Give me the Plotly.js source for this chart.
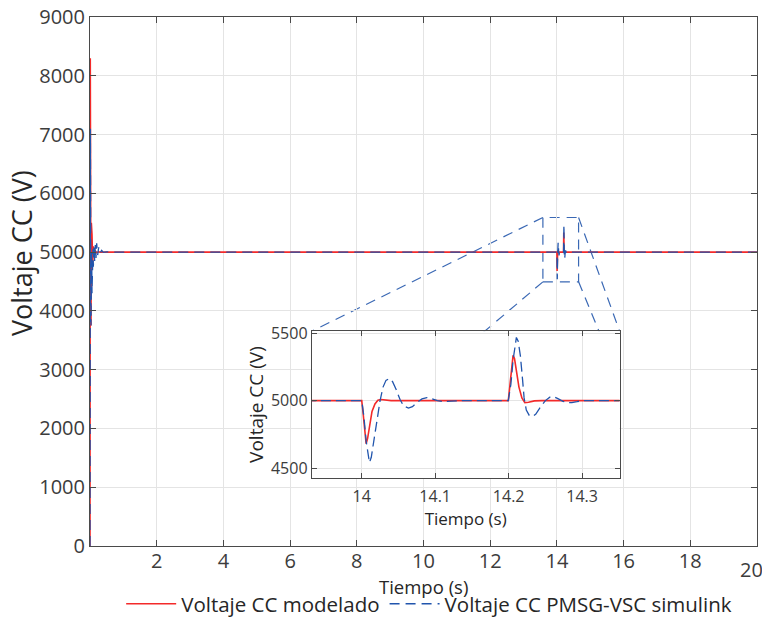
<!DOCTYPE html>
<html>
<head>
<meta charset="utf-8">
<script src="https://cdn.plot.ly/plotly-3.0.1.min.js"></script>
<style>html,body{margin:0;padding:0;background:#fff;}#chart{width:762px;height:619px;}</style>
</head>
<body>
<div id="chart"></div>
<script>
// ---- Data ----
// Red: "Voltaje CC modelado"
var tModel = [0, 0.004, 0.008, 0.012, 0.02, 0.03, 0.04, 0.05, 0.06, 0.08, 0.1, 0.12, 0.15, 0.2, 0.25, 0.3, 0.4,
  14.0, 14.002, 14.004, 14.006, 14.008, 14.011, 14.014, 14.018, 14.022, 14.026, 14.032, 14.04,
  14.1995, 14.202, 14.204, 14.206, 14.208, 14.211, 14.214, 14.218, 14.222, 14.227, 14.235, 14.245, 20];
var vModel = [0, 4200, 8300, 7200, 5600, 3750, 5500, 4500, 5300, 4800, 5100, 4950, 5030, 4990, 5005, 5000, 5000,
  5000, 4900, 4760, 4680, 4720, 4830, 4920, 4975, 5002, 5008, 5003, 5000,
  5000, 5120, 5260, 5335, 5310, 5200, 5100, 5020, 4985, 4988, 4998, 5000, 5000];

// Blue dashed: "Voltaje CC PMSG-VSC simulink"
var tSim = [0, 0.005, 0.012, 0.02, 0.03, 0.04, 0.05, 0.06, 0.07, 0.08, 0.09, 0.1, 0.12, 0.14, 0.16, 0.18, 0.2, 0.23, 0.26, 0.3, 0.35, 0.4, 0.5, 0.6,
  14.0, 14.003, 14.006, 14.009, 14.0105, 14.013, 14.017, 14.021, 14.025, 14.029, 14.033, 14.0377, 14.042, 14.047, 14.052, 14.057, 14.0636, 14.069, 14.075, 14.082, 14.0886, 14.095, 14.103, 14.111, 14.12, 14.134,
  14.1995, 14.203, 14.206, 14.209, 14.2105, 14.213, 14.216, 14.219, 14.221, 14.224, 14.228, 14.2327, 14.237, 14.243, 14.25, 14.256, 14.261, 14.267, 14.274, 14.28, 14.286, 14.293, 14.3, 20];
var vSim = [0, 3000, 7100, 5200, 3750, 4600, 5000, 4300, 4950, 4650, 5050, 4750, 5100, 4850, 5120, 4900, 5150, 4950, 5080, 4980, 5030, 4995, 5005, 5000,
  5000, 4880, 4700, 4570, 4540, 4580, 4720, 4880, 5000, 5100, 5150, 5163, 5140, 5080, 5010, 4960, 4944, 4955, 4985, 5012, 5022, 5015, 5000, 4993, 4994, 5000,
  5000, 5120, 5300, 5440, 5468, 5440, 5330, 5150, 5020, 4930, 4890, 4883, 4900, 4950, 5000, 5025, 5029, 5015, 4995, 4986, 4985, 4992, 5000, 5000];

var seriesNames = ['Voltaje CC modelado', 'Voltaje CC PMSG-VSC simulink'];
var mainXTicks = [2, 4, 6, 8, 10, 12, 14, 16, 18];
var mainYTicks = [0, 1000, 2000, 3000, 4000, 5000, 6000, 7000, 8000, 9000];
var insetXTicks = [14, 14.1, 14.2, 14.3];
var insetXLabels = ['14', '14.1', '14.2', '14.3'];
var insetYTicks = [4500, 5000, 5500];
var xTitle = 'Tiempo (s)', yTitle = 'Voltaje CC (V)';

// zoom rectangle (main-axis data units)
var zoomBox = {x0: 13.58, x1: 14.65, y0: 4494, y1: 5589};

var RED = '#f32a2a', BLUE = '#2155ad', TXT = '#3c3c3c', AX = '#4a4a4a', GRID = '#e4e4e4';
var FONT = 'Open Sans, sans-serif';

var traces = [
  {x: tModel, y: vModel, type: 'scatter', mode: 'lines', name: seriesNames[0],
   line: {color: RED, width: 1.6}, xaxis: 'x', yaxis: 'y'},
  {x: tSim, y: vSim, type: 'scatter', mode: 'lines', name: seriesNames[1],
   line: {color: BLUE, width: 1.3, dash: '10px,6px'}, xaxis: 'x', yaxis: 'y'},
  {x: tModel, y: vModel, type: 'scatter', mode: 'lines', name: seriesNames[0], showlegend: false,
   line: {color: RED, width: 1.6}, xaxis: 'x2', yaxis: 'y2'},
  {x: tSim, y: vSim, type: 'scatter', mode: 'lines', name: seriesNames[1], showlegend: false,
   line: {color: BLUE, width: 1.3, dash: '10px,5px'}, xaxis: 'x2', yaxis: 'y2'}
];

var connStyle = {color: '#3a68b4', width: 1.2, dash: '10px,7px'};
function seg(x0, y0, x1, y1) {
  return {type: 'line', xref: 'x', yref: 'y', layer: 'below', x0: x0, y0: y0, x1: x1, y1: y1, line: connStyle};
}
var shapes = [
  {type: 'rect', xref: 'x', yref: 'y', layer: 'below', x0: zoomBox.x0, x1: zoomBox.x1, y0: zoomBox.y0, y1: zoomBox.y1, line: connStyle},
  seg(zoomBox.x0, zoomBox.y1, 6.65, 3655),
  seg(zoomBox.x0, zoomBox.y0, 6.65, 1156),
  seg(zoomBox.x1, zoomBox.y1, 15.88, 3655),
  seg(zoomBox.x1, zoomBox.y0, 15.33, 3560)
];

var layout = {
  width: 762, height: 619,
  margin: {l: 90, r: 5, t: 17, b: 73, autoexpand: false},
  paper_bgcolor: '#ffffff', plot_bgcolor: '#ffffff',
  font: {family: FONT, color: TXT, size: 20},
  showlegend: true,
  legend: {orientation: 'h', x: 0.5085, xanchor: 'center', y: -0.1095, yanchor: 'middle',
           font: {family: FONT, size: 20.5, color: '#262626'}, bgcolor: 'rgba(0,0,0,0)', itemwidth: 50},
  xaxis: {domain: [0, 1], range: [0, 20], tickvals: mainXTicks, ticks: 'inside', ticklen: 6, tickcolor: AX,
          showline: true, linecolor: AX, linewidth: 1, mirror: 'ticks', showgrid: true, gridcolor: GRID,
          zeroline: false, tickfont: {size: 20, color: TXT}, ticklabelstandoff: -3},
  yaxis: {domain: [0, 1], range: [0, 9000], tickvals: mainYTicks, ticks: 'inside', ticklen: 6, tickcolor: AX,
          showline: true, linecolor: AX, linewidth: 1, mirror: 'ticks', showgrid: true, gridcolor: GRID,
          zeroline: false, tickfont: {size: 20, color: TXT}},
  xaxis2: {domain: [0.3325, 0.794], anchor: 'y2', range: [13.932, 14.351], tickvals: insetXTicks, ticktext: insetXLabels,
           ticks: 'inside', ticklen: 5, tickcolor: AX, showline: true, linecolor: AX, linewidth: 1, mirror: 'ticks',
           showgrid: true, gridcolor: GRID, zeroline: false, tickfont: {size: 16, color: TXT},
           ticklabelstandoff: 4, automargin: true,
           title: {text: xTitle, font: {size: 17, color: '#262626'}, standoff: 1}},
  yaxis2: {domain: [0.1285, 0.4062], anchor: 'x2', range: [4426, 5515], tickvals: insetYTicks,
           ticks: 'inside', ticklen: 5, tickcolor: AX, showline: true, linecolor: AX, linewidth: 1, mirror: 'ticks',
           showgrid: true, gridcolor: GRID, zeroline: false, tickfont: {size: 16, color: TXT},
           title: {text: yTitle, font: {size: 19, color: '#262626'}}},
  shapes: shapes,
  annotations: [
    {xref: 'paper', yref: 'paper', x: 1, y: 0, xanchor: 'center', yanchor: 'top', xshift: -6, yshift: -8,
     text: '20', showarrow: false, font: {family: FONT, size: 20, color: TXT}},
    {xref: 'paper', yref: 'paper', x: 0.5, y: -0.0765, xanchor: 'center', yanchor: 'middle',
     text: xTitle, showarrow: false, font: {family: FONT, size: 18.5, color: '#262626'}},
    {xref: 'paper', yref: 'paper', x: -0.1035, y: 0.5536, xanchor: 'center', yanchor: 'middle', textangle: -90,
     text: yTitle, showarrow: false, font: {family: FONT, size: 27, color: '#262626'}}
  ]
};

Plotly.newPlot('chart', traces, layout, {staticPlot: true, displayModeBar: false});
</script>
</body>
</html>
